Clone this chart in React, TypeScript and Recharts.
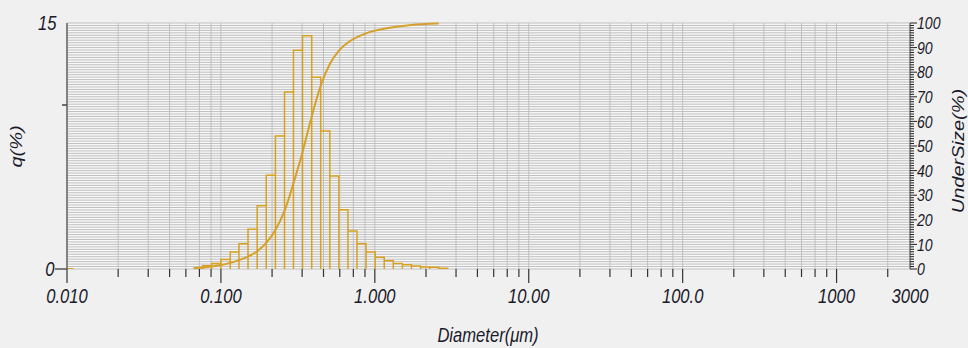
import React from "react";
import { ComposedChart, XAxis, YAxis, CartesianGrid, Line } from "recharts";

// histogram bin edges (μm)
const binEdges = [
  0.067, 0.076, 0.087, 0.1, 0.115, 0.131, 0.15, 0.172, 0.197, 0.226, 0.259, 0.296, 0.339, 0.389, 0.445,
  0.51, 0.584, 0.669, 0.766, 0.877, 1.005, 1.151, 1.318, 1.51, 1.729, 1.981, 2.269, 2.599, 2.976,
];
// q(%) of each bin
const qValues = [
  0.06, 0.2, 0.34, 0.58, 1.03, 1.54, 2.43, 3.85, 5.72, 8.11, 10.8, 13.34, 14.23, 11.69, 8.41, 5.67, 3.62,
  2.31, 1.54, 1.03, 0.72, 0.51, 0.34, 0.26, 0.18, 0.12, 0.1, 0.04,
];
// undersize (%) read at the edges, curve stops at 2.599
const underSize = [
  0.3, 0.6, 1.0, 1.6, 2.5, 3.6, 5.0, 7.2, 10.6, 15.9, 23.6, 34.8, 47.5, 62.0, 74.5, 83.3, 88.8, 92.1, 94.3,
  95.8, 96.9, 97.7, 98.3, 98.8, 99.2, 99.5, 99.7, 99.8,
];

const decades = [0.01, 0.1, 1, 10, 100, 1000];
const minorSteps = [2.15, 3.37, 4.64, 5.92, 7.25, 8.63];
const xLabels = ["0.010", "0.100", "1.000", "10.00", "100.0", "1000"];
const xEnd = 3000;
const qTicks = [0, 10, 15];
const underTicks = Array.from({ length: 101 }, (_, i) => i);

const xTicks: number[] = [];
decades.forEach((d) => {
  xTicks.push(d);
  minorSteps.forEach((m) => {
    if (d * m < xEnd) xTicks.push(d * m);
  });
});
xTicks.push(xEnd);

// each bin drawn as an outlined box: up the left edge, across, down the right edge
const histData = qValues.flatMap((q, i) => [
  { x: binEdges[i], q: 0 },
  { x: binEdges[i], q },
  { x: binEdges[i + 1], q },
  { x: binEdges[i + 1], q: 0 },
]);
const curveData = underSize.map((u, i) => ({ x: binEdges[i], u }));
const stubData = [
  { x: 0.01, q: 0 },
  { x: 0.011, q: 0 },
];

const FONT = "'Liberation Sans', Arial, sans-serif";
const INK = "#1a1a2a";
const GOLD = "#d9a21e";
const SQ = 0.83;

function Txt({ x, y, anchor = "start", size = 20, rot = false, children }: any) {
  const t = `translate(${x},${y}) scale(${SQ},1)` + (rot ? " rotate(-90)" : "");
  return (
    <text transform={t} textAnchor={anchor} fontFamily={FONT} fontStyle="italic" fontSize={size} fill={INK}>
      {children}
    </text>
  );
}

const XTick = (props: any) => {
  const { x, y, payload } = props;
  const v = payload.value;
  const di = decades.findIndex((d) => Math.abs(d - v) < d * 1e-6);
  if (v === xEnd) {
    return <Txt x={x} y={y + 33.5} anchor="middle">3000</Txt>;
  }
  return (
    <g>
      <line x1={x} x2={x} y1={y} y2={y + (di >= 0 ? 14 : 8)} stroke="#333" strokeWidth={1.2} />
      {di >= 0 && (
        <Txt x={x} y={y + 33.5} anchor="middle">
          {xLabels[di]}
        </Txt>
      )}
    </g>
  );
};

const QTick = (props: any) => {
  const { x, y, payload } = props;
  const v = payload.value;
  if (v === 10) return <line x1={x - 5} x2={x} y1={y} y2={y} stroke="#444" strokeWidth={1.5} />;
  return (
    <g>
      {v === 0 && <line x1={x - 12} x2={x} y1={y} y2={y} stroke="#555" strokeWidth={1.5} />}
      <Txt x={v === 0 ? x - 12.5 : x - 10.5} y={y + 7.3} anchor="end">
        {v}
      </Txt>
    </g>
  );
};

const UTick = (props: any) => {
  const { x, y, payload } = props;
  const v = payload.value;
  const major = v % 10 === 0;
  return (
    <g>
      <line x1={x} x2={x + (major ? 7 : 4)} y1={y} y2={y} stroke="#222" strokeWidth={1} />
      {major && (
        <Txt x={x + 7} y={y + 6.2} size={17}>
          {v}
        </Txt>
      )}
    </g>
  );
};

export default function App() {
  return (
    <div style={{ position: "absolute", left: 0, top: 0, width: 968, height: 348, background: "#f0f0f0" }}>
      <ComposedChart width={968} height={348} data={curveData} margin={{ top: 23, right: 0, bottom: 0, left: 0 }}>
        <CartesianGrid yAxisId="u" stroke="#bfbfbf" fill="#f8f8f8" />
        <XAxis
          dataKey="x"
          type="number"
          scale="log"
          domain={[0.01, xEnd]}
          ticks={xTicks}
          interval={0}
          allowDataOverflow
          axisLine={false}
          tickLine={false}
          tickSize={0}
          tickMargin={0}
          height={79}
          tick={<XTick />}
        />
        <YAxis
          yAxisId="q"
          type="number"
          domain={[0, 15]}
          ticks={qTicks}
          interval={0}
          allowDataOverflow
          width={67}
          axisLine={{ stroke: "#666", strokeWidth: 1.5 }}
          tickLine={false}
          tickSize={0}
          tickMargin={0}
          tick={<QTick />}
        />
        <YAxis
          yAxisId="u"
          type="number"
          orientation="right"
          domain={[0, 100]}
          ticks={underTicks}
          interval={0}
          width={58}
          axisLine={{ stroke: "#555" }}
          tickLine={false}
          tickSize={0}
          tickMargin={0}
          tick={<UTick />}
        />
        <Line
          data={histData}
          yAxisId="q"
          dataKey="q"
          type="linear"
          stroke={GOLD}
          strokeWidth={1.5}
          dot={false}
          isAnimationActive={false}
        />
        <Line
          data={stubData}
          yAxisId="q"
          dataKey="q"
          stroke={GOLD}
          strokeWidth={2}
          dot={false}
          isAnimationActive={false}
        />
        <Line
          yAxisId="u"
          dataKey="u"
          type="monotone"
          stroke="#d6a02a"
          strokeWidth={2}
          dot={false}
          isAnimationActive={false}
        />
      </ComposedChart>
      <svg width={968} height={348} style={{ position: "absolute", left: 0, top: 0, pointerEvents: "none" }}>
        <Txt x={488} y={341.5} anchor="middle">
          Diameter(μm)
        </Txt>
        <Txt x={21.5} y={146.5} anchor="middle" rot>
          q(%)
        </Txt>
        <Txt x={964} y={151} anchor="middle" rot>
          UnderSize(%)
        </Txt>
      </svg>
    </div>
  );
}
